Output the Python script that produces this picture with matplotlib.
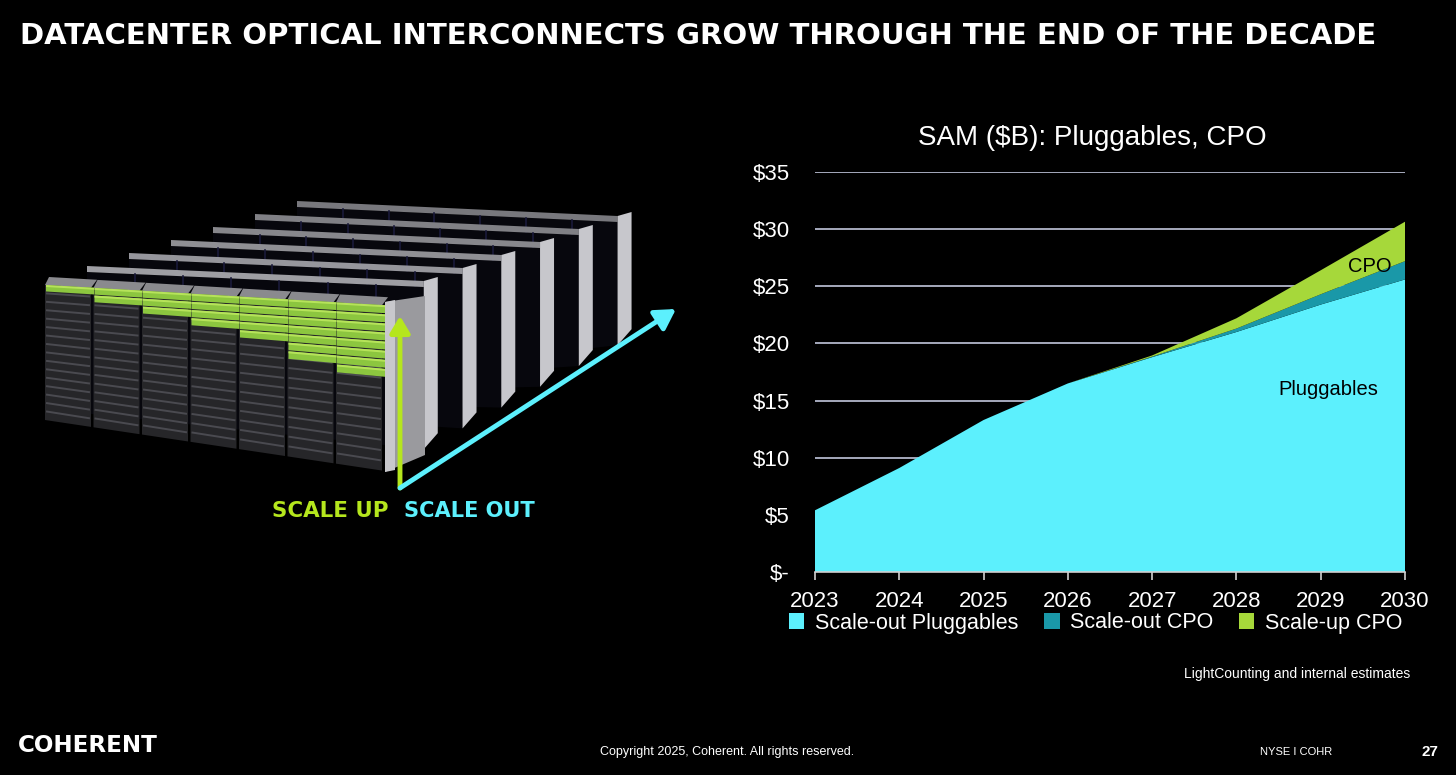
import matplotlib
matplotlib.use("Agg")
import matplotlib.pyplot as plt
from matplotlib.patches import Polygon, FancyArrowPatch, Patch

# ---------------- data ----------------
years = [2023, 2024, 2025, 2026, 2027, 2028, 2029, 2030]
scale_out_pluggables = [5.4, 9.1, 13.3, 16.5, 18.8, 21.0, 23.4, 25.6]
scale_out_cpo = [0.0, 0.0, 0.0, 0.0, 0.05, 0.3, 0.9, 1.6]
scale_up_cpo = [0.0, 0.0, 0.0, 0.0, 0.1, 0.9, 2.1, 3.45]
series_names = ["Scale-out Pluggables", "Scale-out CPO", "Scale-up CPO"]
ytick_vals = [0, 5, 10, 15, 20, 25, 30, 35]
ytick_labels = ["$-", "$5", "$10", "$15", "$20", "$25", "$30", "$35"]

CYAN = "#5cf0fd"
TEAL = "#1a98a8"
GREEN = "#a6d83a"
GRID = "#b3b7cb"
SANS = "Liberation Sans"

W, H = 1456, 775
fig = plt.figure(figsize=(W / 100, H / 100), dpi=100, facecolor="black")

# ---------------- background / illustration layer ----------------
bg = fig.add_axes([0, 0, 1, 1], zorder=0)
bg.set_xlim(0, W)
bg.set_ylim(H, 0)
bg.axis("off")


def quad(ax, pts, fc, z=1):
    ax.add_patch(Polygon(pts, closed=True, facecolor=fc, edgecolor="none", lw=0, zorder=z))


# back rows of racks (receding to upper right)
for k in range(6, 0, -1):
    dx, dy = k * 42, -k * 13
    shade = max(0.10, 0.30 - k * 0.03)
    x0, x1 = 45 + dx, 385 + dx * 0.78 + k * 6
    ytop0, ytop1 = 285 + dy, 300 + dy
    ybot0, ybot1 = 420 + dy * 0.5, 470 + dy * 1.6
    z = 1 + (6 - k) * 0.1
    quad(bg, [(x0, ytop0), (x1, ytop1), (x1, ybot1), (x0, ybot0)], "#07070d", z=z)
    quad(bg, [(x0, ytop0 - 6), (x1, ytop1 - 6), (x1, ytop1), (x0, ytop0)],
         (shade + 0.35, shade + 0.35, shade + 0.37), z=z)
    quad(bg, [(x1, ytop1 - 6), (x1 + 14, ytop1 - 10), (x1 + 14, ybot1 - 16), (x1, ybot1)],
         (0.78, 0.78, 0.8), z=z)
    for j in range(1, 7):
        xx = x0 + (x1 - x0) * j / 7
        yt = ytop0 + (ytop1 - ytop0) * j / 7
        yb = ybot0 + (ybot1 - ybot0) * j / 7
        bg.plot([xx, xx], [yt, yb], color="#1a1a3a", lw=1.2, zorder=z + 0.01)

# front row of racks with green (scale-up) trays
n_racks = 7
green_counts = [1, 2, 3, 4, 5, 7, 8]
for i in range(n_racks):
    x0 = 45 + i * 48.5
    x1 = x0 + 46
    t0, t1 = 285 + (x0 - 45) * 0.06, 285 + (x1 - 45) * 0.06
    b0, b1 = 420 + (x0 - 45) * 0.15, 420 + (x1 - 45) * 0.15
    quad(bg, [(x0, t0), (x1, t1), (x1, b1), (x0, b0)], "#262629", z=3)
    quad(bg, [(x0 + 4, t0 - 8), (x1 + 6, t1 - 8), (x1, t1), (x0, t0)], "#8a8a8e", z=3)
    nslots = 16
    for s in range(1, nslots):
        f = s / nslots
        ya = t0 + (b0 - t0) * f
        yb = t1 + (b1 - t1) * f
        bg.plot([x0 + 2, x1 - 2], [ya, yb], color="#4a4a50", lw=1.4, zorder=3.1)
    for g in range(green_counts[i]):
        f0 = g * 0.055
        f1 = f0 + 0.048
        ya0 = t0 + (b0 - t0) * f0
        yb0 = t1 + (b1 - t1) * f0
        ya1 = t0 + (b0 - t0) * f1
        yb1 = t1 + (b1 - t1) * f1
        quad(bg, [(x0 + 1, ya0), (x1 + 3, yb0), (x1 + 3, yb1), (x0 + 1, ya1)], "#8cc63f", z=3.2)
        quad(bg, [(x0 + 1, ya0), (x1 + 3, yb0), (x1 + 3, yb0 + 2), (x0 + 1, ya0 + 2)], "#b6e35a", z=3.3)
# side panel of the last rack
quad(bg, [(385, 302), (425, 296), (425, 455), (385, 472)], "#9a9a9e", z=3)
quad(bg, [(385, 302), (395, 300), (395, 470), (385, 472)], "#c8c8cc", z=3.1)

# arrows
bg.add_patch(FancyArrowPatch((400, 488), (400, 316), arrowstyle="-|>,head_length=10,head_width=6",
                             color="#b5e61d", lw=3.5, zorder=5, shrinkA=0, shrinkB=0))
bg.add_patch(FancyArrowPatch((400, 488), (676, 309), arrowstyle="-|>,head_length=12,head_width=7",
                             color=CYAN, lw=3.5, zorder=5, shrinkA=0, shrinkB=0))

BOLDF = "DejaVu Sans"
t_up = bg.text(272, 511, "SCALE UP", color="#b5e61d", fontsize=20, fontweight="bold",
               family=BOLDF, va="center", ha="left", zorder=6)
t_out = bg.text(404, 511, "SCALE OUT", color=CYAN, fontsize=20, fontweight="bold",
                family=BOLDF, va="center", ha="left", zorder=6)
title = bg.text(20, 36, "DATACENTER OPTICAL INTERCONNECTS GROW THROUGH THE END OF THE DECADE",
                color="white", fontsize=30, fontweight="bold", family=BOLDF,
                va="center", ha="left", zorder=6)
logo = bg.text(18, 745, "COHERENT", color="white", fontsize=20, fontweight="bold", family=BOLDF,
               va="center", ha="left", zorder=6)


def fit(t, width):
    fig.canvas.draw()
    bb = t.get_window_extent()
    t.set_fontsize(t.get_fontsize() * width / bb.width)


fit(title, 1378 - 20)
fit(t_up, 388 - 272)
fit(t_out, 535 - 404)
fit(logo, 157 - 18)

# footer
bg.text(727, 752, "Copyright 2025, Coherent. All rights reserved.", color="white", fontsize=9,
        family=SANS, va="center", ha="center", zorder=6)
bg.text(1296, 752, "NYSE I COHR", color="white", fontsize=8, family=SANS,
        va="center", ha="center", zorder=6)
bg.text(1430, 752, "27", color="white", fontsize=11, fontweight="bold", family=SANS,
        va="center", ha="center", zorder=6)
bg.text(1410, 674, "LightCounting and internal estimates", color="white", fontsize=10,
        family=SANS, va="center", ha="right", zorder=6)
bg.text(1092, 138, "SAM ($B): Pluggables, CPO", color="white", fontsize=20, family=SANS,
        va="center", ha="center", zorder=6)

# ---------------- chart ----------------
ax = fig.add_axes([815 / W, 203 / H, 590 / W, 400 / H], zorder=2)
ax.set_facecolor("none")
ax.set_xlim(years[0], years[-1])
ax.set_ylim(0, 35)
for v in ytick_vals[1:]:
    ax.axhline(v, color=GRID, lw=1.3, zorder=0)
ax.stackplot(years, scale_out_pluggables, scale_out_cpo, scale_up_cpo,
             colors=[CYAN, TEAL, GREEN], labels=series_names, zorder=2, lw=0)

for s in ["top", "right", "left"]:
    ax.spines[s].set_visible(False)
ax.spines["bottom"].set_color("#d0d0d0")
ax.spines["bottom"].set_linewidth(1.2)
ax.spines["bottom"].set_zorder(3)
ax.set_xticks(years)
ax.set_xticklabels([str(y) for y in years], fontsize=16, color="white", family=SANS)
ax.tick_params(axis="x", direction="out", length=6, width=1.2, color="#d0d0d0", pad=8)
ax.set_yticks(ytick_vals)
ax.set_yticklabels(ytick_labels, fontsize=16, color="white", family=SANS)
ax.tick_params(axis="y", length=0, pad=18)

ax.text(2029.58, 26.7, "CPO", color="black", fontsize=14.5, family=SANS,
        ha="center", va="center", zorder=4)
ax.text(2029.09, 16.0, "Pluggables", color="black", fontsize=14.5, family=SANS,
        ha="center", va="center", zorder=4)

handles = [Patch(facecolor=c, edgecolor="none") for c in [CYAN, TEAL, GREEN]]
leg = fig.legend(handles, series_names, loc="center", bbox_to_anchor=(1096 / W, 1 - 623 / H),
                 ncol=3, frameon=False, handlelength=0.7, handleheight=0.7,
                 handletextpad=0.5, columnspacing=1.2, prop={"family": SANS, "size": 15.5},
                 borderpad=0, borderaxespad=0)
for t in leg.get_texts():
    t.set_color("white")

fig.savefig("out.png", dpi=100, facecolor="black")
